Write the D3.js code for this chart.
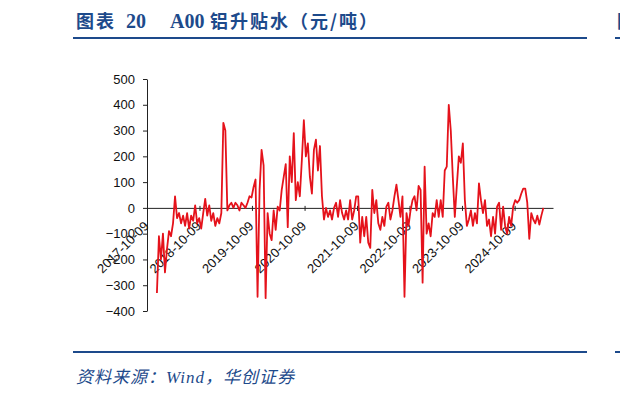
<!DOCTYPE html>
<html>
<head>
<meta charset="utf-8">
<script src="https://cdn.jsdelivr.net/npm/d3@7"></script>
<style>
  body { margin: 0; background: #fff; }
  svg { display: block; }
  .axis text { font-family: 'Liberation Sans', Arial, sans-serif; font-size: 13px; fill: #111; }
  .axis path, .axis line { stroke: #222; }
</style>
</head>
<body>
<div id="chart"></div>
<script>
// A00 铝升贴水 (元/吨), readings roughly every two weeks
let startDate = '2017-12-17'
let stepDays = 14
let premium = [
  -330, -110, -200, -100, -250, -160, -90, -110, -60, 45,
  -40, -20, -60, -30, -70, -20, -80, -30, -50, 10,
  -60, -40, -80, -20, 35, -30, 10, -50, -20, -70,
  -40, -60, -20, 330, 300, -10, 10, 20, 0, 20,
  10, -10, 20, 10, 0, 20, 45, 40, 80, 110,
  -345, 70, 225, 165, -350, -20, -100, -125, -10, -85,
  5, -10, 70, 120, 170, -75, 200, 100, 290, 30,
  100, 45, 185, 340, 200, 250, 120, 55, 225, 265,
  145, 240, 45, -45, 0, -35, -10, -45, 0, 20,
  -35, 30, -20, -45, -10, -45, 30, -45, -10, 45,
  45, -135, -35, -110, -35, -135, -155, 70, -20, 30,
  -60, -85, -35, -70, 5, 20, -45, -10, 45, 90,
  30, -35, 45, -345, -20, -70, -10, 30, 45, -10,
  85, 70, -290, 160, -100, -60, -110, -20, -35, 30,
  -35, 30, -35, 145, 160, 400, 300, 120, -35, 85,
  200, 175, 250, 30, -70, -45, -10, -70, -20, -60,
  95, 30, -20, 30, -70, -45, -110, -35, -100, 5,
  20, -85, 5, -70, -100, -35, -70, 5, 30, 20,
  30, 55, 75, 75, 20, -120, -20, -45, -60, -30,
  -65, -30, 0
]
let tickDates = ['2017-10-09', '2018-10-09', '2019-10-09', '2020-10-09',
  '2021-10-09', '2022-10-09', '2023-10-09', '2024-10-09']
let yTicks = [500, 400, 300, 200, 100, 0, -100, -200, -300, -400]

let width = 620
let height = 397
let blue = '#1d4a8b'

let parseDate = d3.timeParse('%Y-%m-%d')
let start = parseDate(startDate)
let datapoints = premium.map((v, i) => ({
  date: d3.timeDay.offset(start, i * stepDays),
  value: v
}))

let svg = d3
  .select('#chart')
  .append('svg')
  .attr('width', width)
  .attr('height', height)

let xPositionScale = d3
  .scaleTime()
  .domain([parseDate('2017-10-09'), parseDate('2025-07-03')])
  .range([147, 553])
let yPositionScale = d3.scaleLinear().domain([-400, 500]).range([311, 79])

// title + rules
let title = svg
  .append('text')
  .attr('y', 28)
  .attr('fill', blue)
  .attr('font-weight', 'bold')
  .attr('font-size', 18)
title.append('tspan').attr('x', 76).attr('font-family', 'Noto Sans CJK SC').attr('letter-spacing', 2).text('图表')
title.append('tspan').attr('x', 126).attr('font-family', 'Liberation Serif').attr('font-size', 20).text('20')
title.append('tspan').attr('x', 170).attr('font-family', 'Liberation Serif').attr('font-size', 20).text('A00')
title.append('tspan').attr('x', 210).attr('font-family', 'Noto Sans CJK SC').attr('letter-spacing', 2).text('铝升贴水（元/吨）')

// start of the next panel, cut by the page edge
svg.append('text')
  .attr('x', 617).attr('y', 28)
  .attr('fill', blue).attr('font-weight', 'bold').attr('font-size', 18)
  .attr('font-family', 'Noto Sans CJK SC')
  .text('图')

svg.append('line').attr('x1', 73).attr('x2', 587).attr('y1', 38).attr('y2', 38)
  .attr('stroke', blue).attr('stroke-width', 2)
svg.append('line').attr('x1', 615).attr('x2', 620).attr('y1', 38).attr('y2', 38)
  .attr('stroke', blue).attr('stroke-width', 2)
svg.append('line').attr('x1', 73).attr('x2', 587).attr('y1', 352).attr('y2', 352)
  .attr('stroke', blue).attr('stroke-width', 2)
svg.append('line').attr('x1', 615).attr('x2', 620).attr('y1', 352).attr('y2', 352)
  .attr('stroke', blue).attr('stroke-width', 2)

svg.append('text')
  .attr('x', 76).attr('y', 383)
  .attr('fill', blue)
  .attr('font-style', 'italic')
  .attr('font-size', 17)
  .attr('letter-spacing', 1)
  .attr('font-family', "'Liberation Serif', 'Noto Sans CJK SC'")
  .text('资料来源：Wind，华创证券')

// axes
let yAxis = d3.axisLeft(yPositionScale)
  .tickValues(yTicks)
  .tickSize(4)
  .tickSizeOuter(0)
  .tickPadding(8)
svg.append('g')
  .attr('class', 'axis y-axis')
  .attr('transform', 'translate(147,0)')
  .call(yAxis)

let xAxis = d3.axisBottom(xPositionScale)
  .tickValues(tickDates.map(parseDate))
  .tickFormat(d3.timeFormat('%Y-%m-%d'))
  .tickSize(3)
  .tickSizeOuter(0)
let xg = svg.append('g')
  .attr('class', 'axis x-axis')
  .attr('transform', 'translate(0,' + yPositionScale(0) + ')')
  .call(xAxis)
xg.selectAll('.tick line').attr('y1', -2)
xg.selectAll('.tick text')
  .attr('x', 0).attr('y', 0).attr('dy', 0)
  .attr('text-anchor', 'end')
  .attr('transform', 'translate(2,19) rotate(-45)')

// the series
let line = d3.line()
  .x(d => xPositionScale(d.date))
  .y(d => yPositionScale(d.value))

svg.append('path')
  .datum(datapoints)
  .attr('d', line)
  .attr('fill', 'none')
  .attr('stroke', '#e5121b')
  .attr('stroke-width', 1.8)
  .attr('stroke-linejoin', 'round')
</script>
</body>
</html>
